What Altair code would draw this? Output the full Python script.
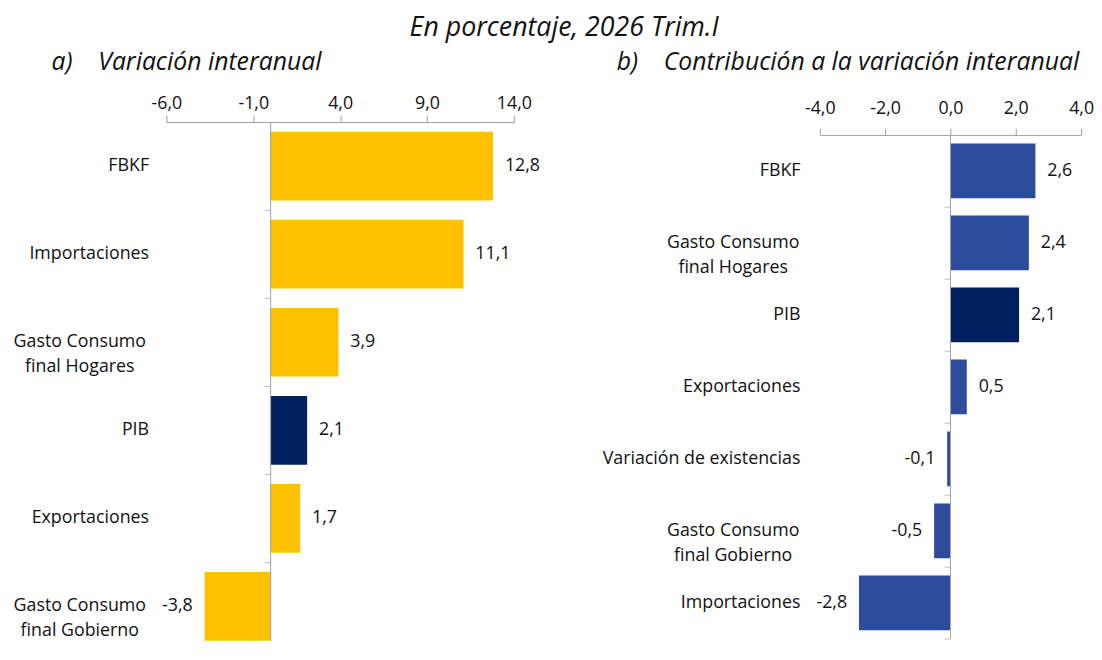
import altair as alt
import pandas as pd

# ---- data ----
cats_a = ["FBKF", "Importaciones", "Gasto Consumo|final Hogares", "PIB",
          "Exportaciones", "Gasto Consumo|final Gobierno"]
vals_a = [12.8, 11.1, 3.9, 2.1, 1.7, -3.8]
ticks_a = [-6, -1, 4, 9, 14]

cats_b = ["FBKF", "Gasto Consumo|final Hogares", "PIB", "Exportaciones",
          "Variación de existencias", "Gasto Consumo|final Gobierno", "Importaciones"]
vals_b = [2.6, 2.4, 2.1, 0.5, -0.1, -0.5, -2.8]
ticks_b = [-4, -2, 0, 2, 4]

title_main = "En porcentaje, 2026 Trim.I"
title_a = "a)\u00a0\u00a0\u00a0\u00a0Variación interanual"
title_b = "b)\u00a0\u00a0\u00a0\u00a0Contribución a la variación interanual"

FONT = "Open Sans"
GRAY = "#A0A0A0"
NAVY = "#002060"
YELLOW = "#FFC000"
BLUE = "#2E4C9C"
TXT = "#111111"


def fmt(v):
    s = f"{abs(v):.1f}".replace(".", ",")
    return ("-" + s) if v < 0 else s


def panel(cats, vals, ticks, bar_color, width, height, yscale, ext, lab_pad,
          x_lab_pad, x_off, tick_off, tick_cats, rule_top, title_params):
    df = pd.DataFrame({"cat": cats, "val": vals, "lbl": [fmt(v) for v in vals]})
    tdf = pd.DataFrame({"cat": tick_cats})
    zero = pd.DataFrame({"z": [0]})

    xscale = alt.Scale(domain=[ticks[0], ticks[-1]], nice=False, zero=False)
    multi = "indexof(datum.label, '|') >= 0"

    y = alt.Y("cat:N", sort=cats, title=None, scale=yscale,
              axis=alt.Axis(domain=False, ticks=False,
                            labelPadding={"condition": {"test": multi, "value": 88}, "value": lab_pad},
                            labelAlign={"condition": {"test": multi, "value": "center"}, "value": "right"},
                            labelExpr="split(datum.label, '|')",
                            labelFont=FONT, labelFontSize=18, labelColor=TXT,
                            labelLineHeight=25, minExtent=ext, maxExtent=ext,
                            labelLimit=400))
    x = alt.X("val:Q", title=None, scale=xscale,
              axis=alt.Axis(orient="top", values=ticks, grid=False, offset=x_off,
                            labelExpr="(datum.value < 0 ? '-' : '') + replace(format(abs(datum.value), '.1f'), '.', ',')",
                            domainColor=GRAY, tickColor=GRAY, tickSize=7,
                            labelPadding=x_lab_pad, labelFont=FONT, labelFontSize=18,
                            labelColor=TXT, labelFlush=False))

    bars = alt.Chart(df).mark_bar().encode(
        x=x, y=y,
        color=alt.condition("datum.cat == 'PIB'", alt.value(NAVY), alt.value(bar_color)),
    )
    pos = alt.Chart(df).transform_filter("datum.val >= 0").mark_text(
        align="left", baseline="middle", dx=12, font=FONT, fontSize=18, color=TXT
    ).encode(x="val:Q", y=alt.Y("cat:N", sort=cats), text="lbl:N")
    neg = alt.Chart(df).transform_filter("datum.val < 0").mark_text(
        align="right", baseline="middle", dx=-12, font=FONT, fontSize=18, color=TXT
    ).encode(x="val:Q", y=alt.Y("cat:N", sort=cats), text="lbl:N")
    zline = alt.Chart(zero).mark_rule(color=GRAY, strokeWidth=1).encode(
        x="z:Q", y=alt.value(rule_top), y2=alt.value(height))
    zticks = alt.Chart(tdf).mark_tick(
        orient="horizontal", size=6, thickness=1, color=GRAY, xOffset=-3, yOffset=tick_off
    ).encode(x=alt.datum(0), y=alt.Y("cat:N", sort=cats, bandPosition=1))

    return alt.layer(bars, zline, zticks, pos, neg).properties(
        width=width, height=height, title=title_params)


def tparams(text, anchor, dx, offset):
    return alt.TitleParams(text, anchor=anchor, frame="group", dx=dx, offset=offset,
                           font=FONT, fontSize=25, fontStyle="italic",
                           fontWeight="normal", color=TXT)


H_A = 524
H_B = 522
left = panel(cats_a, vals_a, ticks_a, YELLOW, 351, H_A,
             alt.Scale(paddingInner=0.22, paddingOuter=0.055, align=1),
             155, 18, 3, 0, 10, cats_a[:-1], 0,
             tparams(title_a, "start", -116, 20))
right = panel(cats_b, vals_b, ticks_b, BLUE, 264, H_B,
              alt.Scale(paddingInner=0.24, paddingOuter=0.12, range=[13, H_B]),
              230, 20, 11, -13, 9, cats_b, 13,
              tparams(title_b, "end", -2, 25))

chart = alt.hconcat(left, right, spacing=52).properties(
    title=alt.TitleParams(title_main, anchor="middle", font=FONT, fontSize=27,
                          fontStyle="italic", fontWeight="normal", color=TXT,
                          offset=8, dx=11),
    padding={"left": 5, "top": 3, "right": 0, "bottom": 0},
).configure_view(stroke=None)

chart.save("out.html", embed_options={"renderer": "svg", "actions": False})
